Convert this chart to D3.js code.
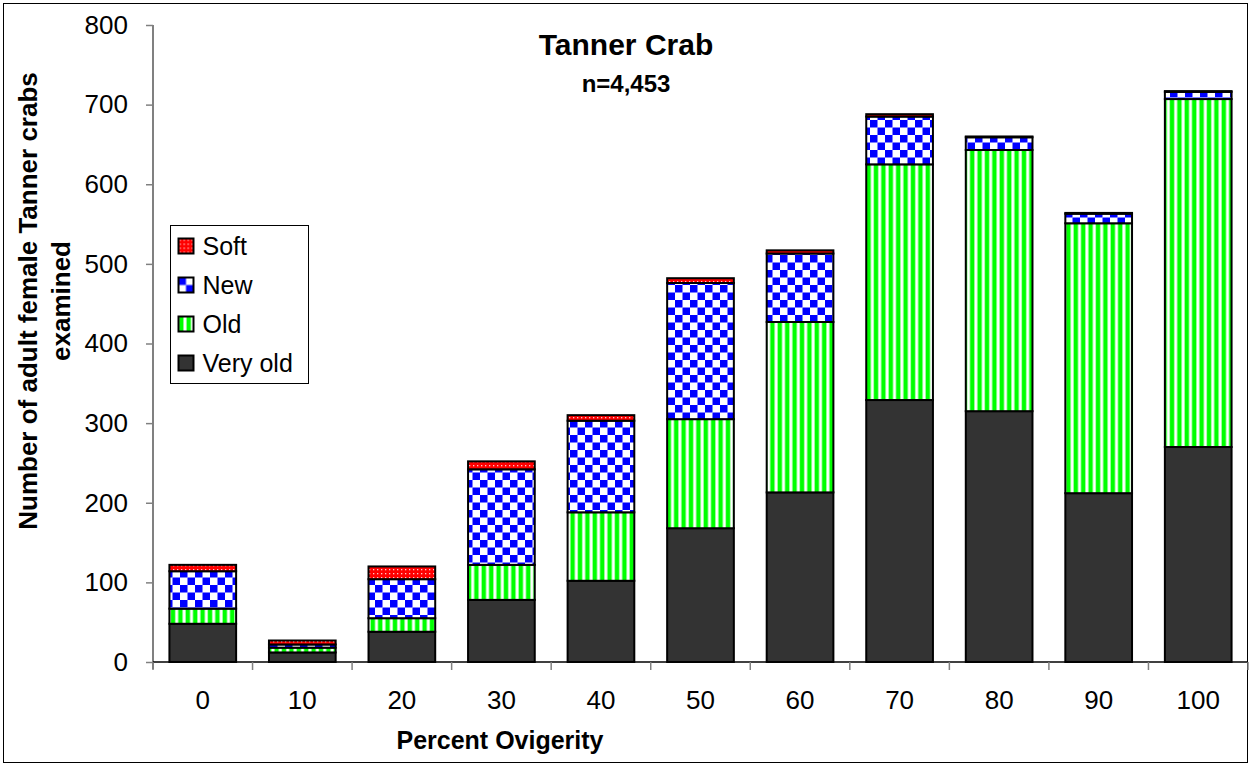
<!DOCTYPE html>
<html>
<head>
<meta charset="utf-8">
<script src="https://cdn.jsdelivr.net/npm/d3@7"></script>
<style>
  body { margin: 0; background: #fff; }
  svg { display: block; font-family: "Liberation Sans", Arial, sans-serif; }
</style>
</head>
<body>
<svg id="chart" width="1249" height="767"></svg>
<script>
// categories (percent ovigerity)
var categories = ["0", "10", "20", "30", "40", "50", "60", "70", "80", "90", "100"];

// counts per shell condition
var veryOld = [48, 12, 38, 78, 102, 168, 213, 329, 315, 212, 270];
var old     = [19,  6, 17, 44,  86, 137, 214, 296, 328, 339, 437];
var newShell= [47,  4, 49, 120, 115, 171, 86, 60, 16, 12, 9];
var soft    = [ 8,  5, 16, 10,   7,   6,  4,  3,  1,  1, 1];

var seriesNames = ["Very old", "Old", "New", "Soft"];
var yTicks = [0, 100, 200, 300, 400, 500, 600, 700, 800];

var fills = {
    "Very old": "#333333",
    "Old": "url(#pOld)",
    "New": "url(#pNew)",
    "Soft": "url(#pSoft)"
};

var svg = d3.select("#chart");

//
// patterns
//
var defs = svg.append("defs");

var pOld = defs.append("pattern").attr("id", "pOld")
    .attr("patternUnits", "userSpaceOnUse")
    .attr("width", 7.4).attr("height", 8);
pOld.append("rect").attr("width", 7.4).attr("height", 8).attr("fill", "#fff");
pOld.append("rect").attr("x", 0.6).attr("width", 4.4).attr("height", 8).attr("fill", "#00ff00");

var pNew = defs.append("pattern").attr("id", "pNew")
    .attr("patternUnits", "userSpaceOnUse")
    .attr("width", 15).attr("height", 15);
pNew.append("rect").attr("width", 15).attr("height", 15).attr("fill", "#fff");
pNew.append("rect").attr("width", 7.5).attr("height", 7.5).attr("fill", "#0000ff");
pNew.append("rect").attr("x", 7.5).attr("y", 7.5).attr("width", 7.5).attr("height", 7.5).attr("fill", "#0000ff");

var pSoft = defs.append("pattern").attr("id", "pSoft")
    .attr("patternUnits", "userSpaceOnUse")
    .attr("width", 4).attr("height", 4);
pSoft.append("rect").attr("width", 4).attr("height", 4).attr("fill", "#ff0000");
pSoft.append("rect").attr("x", 1).attr("y", 1).attr("width", 1.3).attr("height", 1.3).attr("fill", "#ffc8c8");

//
// frame
//
svg.append("rect")
    .attr("x", 3.5).attr("y", 3.5)
    .attr("width", 1244).attr("height", 759)
    .attr("fill", "none").attr("stroke", "#000").attr("stroke-width", 1);

// scales
var x = d3.scaleBand()
    .domain(categories)
    .range([153, 1248])
    .paddingInner(0.33)
    .paddingOuter(0.165);

var y = d3.scaleLinear()
    .domain([0, 800])
    .range([662, 25]);

// stack data
var table = categories.map(function(c, i) {
    return { cat: c, "Very old": veryOld[i], "Old": old[i], "New": newShell[i], "Soft": soft[i] };
});
var stacked = d3.stack().keys(seriesNames)(table);

//
// bars
//
var layer = svg.append("g").selectAll("g")
    .data(stacked)
  .enter().append("g")
    .attr("fill", function(d) { return fills[d.key]; });

layer.selectAll("rect")
    .data(function(d) { return d; })
  .enter().append("rect")
    .attr("x", function(d) { return x(d.data.cat); })
    .attr("y", function(d) { return y(d[1]); })
    .attr("width", x.bandwidth())
    .attr("height", function(d) { return y(d[0]) - y(d[1]); })
    .attr("stroke", "#000")
    .attr("stroke-width", 2);

//
// y axis
//
var yAxis = d3.axisLeft(y).tickValues(yTicks).tickSize(7).tickPadding(18);
var gy = svg.append("g")
    .attr("transform", "translate(153,0)")
    .call(yAxis);
gy.select(".domain").attr("stroke", "#808080").attr("stroke-width", 2)
    .attr("d", "M0," + y(800) + "V" + (y(0) + 7));
gy.selectAll(".tick line").attr("stroke", "#808080").attr("stroke-width", 1.5);
gy.selectAll(".tick text")
    .attr("font-size", 26).attr("fill", "#000")
    .attr("font-family", "Liberation Sans, Arial, sans-serif");

//
// x axis (ticks at category boundaries)
//
var gx = svg.append("g");
gx.append("line")
    .attr("x1", x.range()[0]).attr("x2", x.range()[1])
    .attr("y1", y(0)).attr("y2", y(0))
    .attr("stroke", "#000").attr("stroke-width", 1.5);

var bounds = d3.range(categories.length + 1).map(function(i) {
    return x.range()[0] + i * x.step();
});
gx.selectAll(".xtick")
    .data(bounds)
  .enter().append("line")
    .attr("x1", function(d) { return d; }).attr("x2", function(d) { return d; })
    .attr("y1", y(0)).attr("y2", y(0) + 8)
    .attr("stroke", "#808080").attr("stroke-width", 1.5);

gx.selectAll(".xlab")
    .data(categories)
  .enter().append("text")
    .attr("x", function(d) { return x(d) + x.bandwidth() / 2; })
    .attr("y", 709)
    .attr("text-anchor", "middle")
    .attr("font-size", 26)
    .text(function(d) { return d; });

//
// titles
//
svg.append("text")
    .attr("x", 626).attr("y", 55)
    .attr("text-anchor", "middle")
    .attr("font-size", 30).attr("font-weight", "bold")
    .text("Tanner Crab");
svg.append("text")
    .attr("x", 626).attr("y", 92)
    .attr("text-anchor", "middle")
    .attr("font-size", 24).attr("font-weight", "bold")
    .text("n=4,453");

svg.append("text")
    .attr("x", 500).attr("y", 749)
    .attr("text-anchor", "middle")
    .attr("font-size", 25).attr("font-weight", "bold")
    .text("Percent Ovigerity");

var yt = svg.append("text")
    .attr("transform", "translate(0,301) rotate(-90)")
    .attr("text-anchor", "middle")
    .attr("font-size", 26).attr("font-weight", "bold");
yt.append("tspan").attr("x", 0).attr("y", 37).text("Number of adult female Tanner crabs");
yt.append("tspan").attr("x", 0).attr("y", 70).text("examined");

//
// legend
//
var legend = svg.append("g").attr("transform", "translate(170.5,225.5)");
legend.append("rect")
    .attr("width", 138).attr("height", 158)
    .attr("fill", "#fff").attr("stroke", "#000").attr("stroke-width", 1);

var legendOrder = ["Soft", "New", "Old", "Very old"];
var li = legend.selectAll(".li")
    .data(legendOrder)
  .enter().append("g")
    .attr("transform", function(d, i) { return "translate(8," + (13 + i * 39) + ")"; });
li.append("rect")
    .attr("width", 15).attr("height", 15)
    .attr("fill", function(d) { return fills[d]; })
    .attr("stroke", "#000").attr("stroke-width", 2);
li.append("text")
    .attr("x", 24).attr("y", 16)
    .attr("font-size", 25)
    .text(function(d) { return d; });
</script>
</body>
</html>
